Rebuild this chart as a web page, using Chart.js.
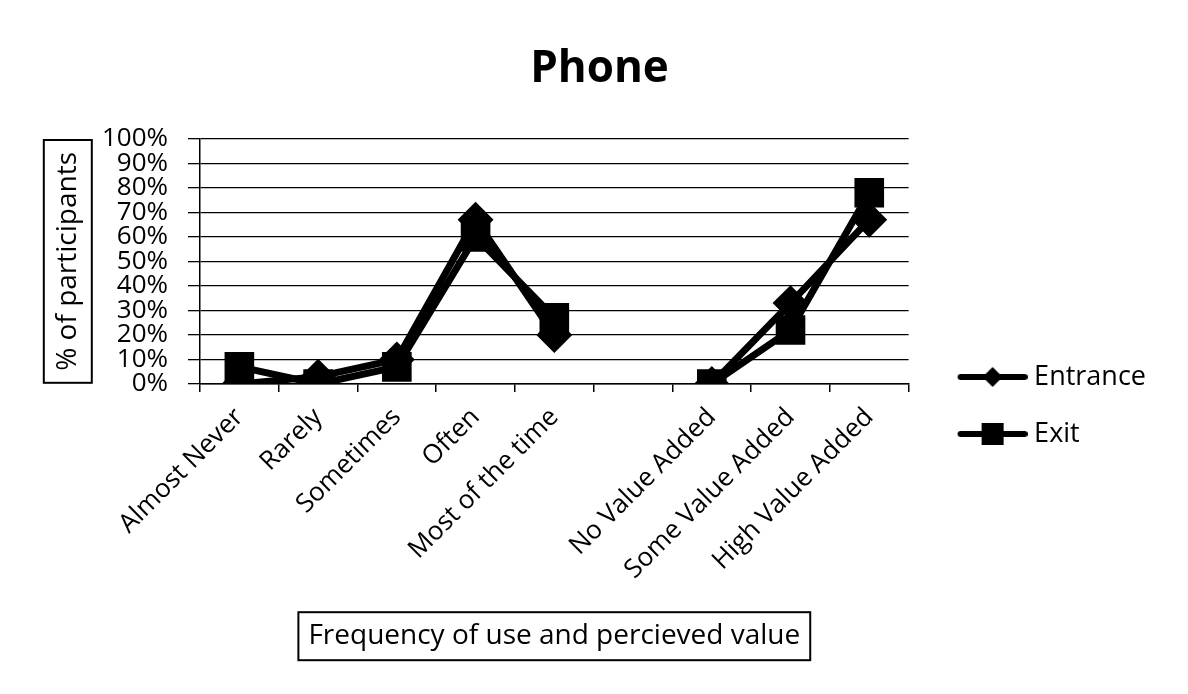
<!DOCTYPE html>
<html>
<head>
<meta charset="utf-8">
<script src="https://cdn.jsdelivr.net/npm/chart.js@4/dist/chart.umd.min.js"></script>
<style>
  html, body { margin: 0; padding: 0; background: #fff; }
  #wrap { width: 1188px; height: 694px; }
</style>
</head>
<body>
<div id="wrap"><canvas id="phoneChart" width="1188" height="694"></canvas></div>
<script>
// categories and values
var categories = ['Almost Never', 'Rarely', 'Sometimes', 'Often', 'Most of the time', '',
    'No Value Added', 'Some Value Added', 'High Value Added'];
var entranceData = [0, 3, 10, 67, 20, null, 0, 33, 67];
var exitData = [7, 0, 7, 60, 27, null, 0, 22, 78];
var yTicks = [0, 10, 20, 30, 40, 50, 60, 70, 80, 90, 100];

var FONT = '"Open Sans", "DejaVu Sans", sans-serif';

// legend swatch: a line with the marker in the middle
function legendSwatch(shape) {
    var c = document.createElement('canvas');
    c.width = 96; c.height = 24;
    var g = c.getContext('2d');
    g.strokeStyle = '#000'; g.fillStyle = '#000';
    g.lineWidth = 6; g.lineCap = 'round';
    g.beginPath(); g.moveTo(29, 12); g.lineTo(93, 12); g.stroke();
    var cx = 61;
    if (shape === 'diamond') {
        g.beginPath();
        g.moveTo(cx, 2); g.lineTo(cx + 10, 12); g.lineTo(cx, 22); g.lineTo(cx - 10, 12);
        g.closePath(); g.fill();
    } else {
        g.fillRect(cx - 11, 1, 22, 22);
    }
    return c;
}

// draws a box round both axis titles
var boxedTitles = {
    id: 'boxedTitles',
    afterDraw: function (chart) {
        var ctx = chart.ctx;
        ctx.save();
        ctx.strokeStyle = '#000';
        ctx.lineWidth = 2;

        var y = chart.scales.y;
        var yf = Chart.helpers.toFont(y.options.title.font);
        ctx.font = yf.string;
        var yw = ctx.measureText(y.options.title.text).width;
        var ycx = y.left + y.options.title.padding.top + yf.lineHeight / 2;
        var ycy = (y.top + y.bottom) / 2;
        ctx.strokeRect(ycx - 24, ycy - yw / 2 - 12, 48, yw + 24);

        var x = chart.scales.x;
        var xf = Chart.helpers.toFont(x.options.title.font);
        ctx.font = xf.string;
        var xw = ctx.measureText(x.options.title.text).width;
        var xcx = (x.left + x.right) / 2;
        var xcy = x.bottom - x.options.title.padding.bottom - xf.lineHeight / 2;
        ctx.strokeRect(xcx - xw / 2 - 10, xcy - 24, xw + 20, 48);
        ctx.restore();
    }
};

var ctx = document.getElementById('phoneChart');

var phoneChart = new Chart(ctx, {
    type: 'line',
    data: {
        labels: categories,
        datasets: [{
            label: 'Entrance',
            data: entranceData,
            borderColor: '#000',
            backgroundColor: '#000',
            borderWidth: 7,
            pointStyle: 'rectRot',
            pointRadius: 13,
            pointBackgroundColor: '#000',
            pointBorderColor: '#000',
            spanGaps: false
        }, {
            label: 'Exit',
            data: exitData,
            borderColor: '#000',
            backgroundColor: '#000',
            borderWidth: 7,
            pointStyle: 'rect',
            pointRadius: 16,
            pointBackgroundColor: '#000',
            pointBorderColor: '#000',
            spanGaps: false
        }]
    },
    options: {
        responsive: false,
        animation: false,
        layout: { padding: { left: 43, right: 32, top: 0, bottom: 24 } },
        plugins: {
            title: {
                display: true,
                text: 'Phone',
                color: '#000',
                font: { family: FONT, size: 44, weight: 'bold' },
                padding: { top: 43, bottom: 43 }
            },
            legend: {
                position: 'right',
                align: 'center',
                title: { display: true, text: '', padding: { top: 0, bottom: 129 }, font: { size: 10 } },
                labels: {
                    color: '#000',
                    font: { family: FONT, size: 27 },
                    usePointStyle: true,
                    pointStyleWidth: 82,
                    padding: 30,
                    generateLabels: function (chart) {
                        return chart.data.datasets.map(function (ds, i) {
                            return {
                                text: ds.label,
                                fontColor: '#000',
                                pointStyle: legendSwatch(i === 0 ? 'diamond' : 'square'),
                                datasetIndex: i,
                                lineWidth: 0,
                                strokeStyle: '#000',
                                fillStyle: '#000'
                            };
                        });
                    }
                }
            },
            tooltip: { enabled: false }
        },
        scales: {
            x: {
                offset: true,
                grid: { display: true, drawOnChartArea: false, drawTicks: true, tickLength: 8, offset: true, color: '#000', lineWidth: 1.5 },
                border: { display: true, color: '#000', width: 1.5 },
                ticks: {
                    color: '#000',
                    font: { family: FONT, size: 26 },
                    autoSkip: false,
                    maxRotation: 45,
                    minRotation: 45,
                    padding: 10
                },
                title: {
                    display: true,
                    text: 'Frequency of use and percieved value',
                    color: '#000',
                    font: { family: FONT, size: 28 },
                    padding: { top: 0, bottom: 17 }
                },
                afterFit: function (scale) { scale.height = 286; }
            },
            y: {
                min: 0,
                max: 100,
                afterBuildTicks: function (scale) {
                    scale.ticks = yTicks.map(function (v) { return { value: v }; });
                },
                grid: { color: '#000', lineWidth: 1.3, tickLength: 12 },
                border: { display: true, color: '#000', width: 1.5 },
                ticks: {
                    color: '#000',
                    font: { family: FONT, size: 26 },
                    autoSkip: false,
                    padding: 20,
                    callback: function (v) { return v + '%'; }
                },
                title: {
                    display: true,
                    text: '% of participants',
                    color: '#000',
                    font: { family: FONT, size: 28 },
                    padding: { top: 8, bottom: 0 }
                },
                afterFit: function (scale) { scale.width = 157; }
            }
        }
    },
    plugins: [boxedTitles]
});
</script>
</body>
</html>
